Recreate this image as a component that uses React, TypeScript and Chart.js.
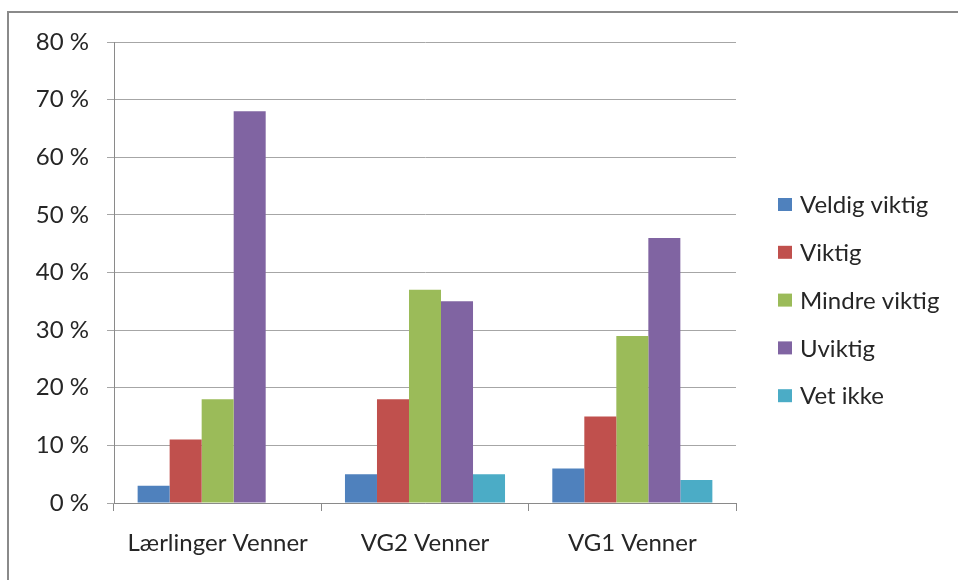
import React, { useEffect, useRef } from "react";
import { Chart, registerables } from "chart.js";

Chart.register(...registerables);

const categories = ["Lærlinger Venner", "VG2 Venner", "VG1 Venner"];
const seriesNames = ["Veldig viktig", "Viktig", "Mindre viktig", "Uviktig", "Vet ikke"];
const veldigViktig = [3, 5, 6];
const viktig = [11, 18, 15];
const mindreViktig = [18, 37, 29];
const uviktig = [68, 35, 46];
const vetIkke = [0, 5, 4];
const seriesColors = ["#4F81BD", "#C0504D", "#9BBB59", "#8064A2", "#4BACC6"];
const yTicks = [0, 10, 20, 30, 40, 50, 60, 70, 80];

const FONT = "Lato, 'Open Sans', sans-serif";
const FONT_SIZE = 24;
const TEXT_COLOR = "#262626";

const framePlugin = {
  id: "frame",
  beforeDraw(chart: any) {
    const ctx = chart.ctx;
    ctx.save();
    ctx.fillStyle = "#ffffff";
    ctx.fillRect(0, 0, chart.width, chart.height);
    ctx.strokeStyle = "#8a8a8a";
    ctx.lineWidth = 2;
    ctx.beginPath();
    ctx.moveTo(8, chart.height + 5);
    ctx.lineTo(8, 12);
    ctx.lineTo(chart.width + 5, 12);
    ctx.stroke();
    ctx.restore();
  },
};

const sideLegendPlugin = {
  id: "sideLegend",
  afterDraw(chart: any) {
    const ctx = chart.ctx;
    const datasets = chart.data.datasets;
    const boxX = 778;
    const textX = 800;
    const firstY = 204.5;
    const step = 47.8;
    ctx.save();
    ctx.font = `${FONT_SIZE}px ${FONT}`;
    ctx.textBaseline = "middle";
    ctx.textAlign = "left";
    datasets.forEach((ds: any, i: number) => {
      const cy = firstY + i * step;
      ctx.fillStyle = ds.backgroundColor;
      ctx.fillRect(boxX, cy - 6.5, 14, 13);
      ctx.fillStyle = TEXT_COLOR;
      ctx.fillText(ds.label, textX, cy + 1);
    });
    ctx.restore();
  },
};

export default function App() {
  const canvasRef = useRef<HTMLCanvasElement | null>(null);

  useEffect(() => {
    if (!canvasRef.current) return;
    const seriesValues = [veldigViktig, viktig, mindreViktig, uviktig, vetIkke];
    const chart = new Chart(canvasRef.current, {
      type: "bar",
      data: {
        labels: categories,
        datasets: seriesNames.map((name, i) => ({
          label: name,
          data: seriesValues[i],
          backgroundColor: seriesColors[i],
          borderWidth: 0,
          categoryPercentage: 0.772,
          barPercentage: 1,
        })),
      },
      options: {
        animation: false,
        responsive: false,
        maintainAspectRatio: false,
        devicePixelRatio: 1,
        layout: { padding: { left: 0, top: 42, right: 222, bottom: 0 } },
        plugins: {
          legend: { display: false },
          tooltip: { enabled: false },
          title: { display: false },
        },
        scales: {
          x: {
            offset: true,
            grid: {
              offset: true,
              drawOnChartArea: false,
              drawTicks: true,
              tickLength: 8,
              color: "#8a8a8a",
            },
            border: { display: true, color: "#8a8a8a", width: 1 },
            ticks: {
              color: TEXT_COLOR,
              font: { family: FONT, size: FONT_SIZE },
              padding: 18,
              maxRotation: 0,
              autoSkip: false,
            },
            afterFit(scale: any) {
              scale.height = 77;
            },
          },
          y: {
            min: 0,
            max: 80,
            afterBuildTicks(scale: any) {
              scale.ticks = yTicks.map((v) => ({ value: v }));
            },
            grid: {
              color: "#a6a6a6",
              tickLength: 7,
              drawTicks: true,
            },
            border: { display: true, color: "#8a8a8a", width: 1 },
            ticks: {
              color: TEXT_COLOR,
              font: { family: FONT, size: FONT_SIZE },
              padding: 18,
              callback: (v: any) => `${v} %`,
            },
            afterFit(scale: any) {
              scale.width = 114;
            },
          },
        },
      },
      plugins: [framePlugin, sideLegendPlugin],
    });
    return () => chart.destroy();
  }, []);

  return (
    <div style={{ position: "fixed", left: 0, top: 0, width: 958, height: 580, background: "#fff" }}>
      <canvas ref={canvasRef} width={958} height={580} style={{ display: "block", width: 958, height: 580 }} />
    </div>
  );
}
